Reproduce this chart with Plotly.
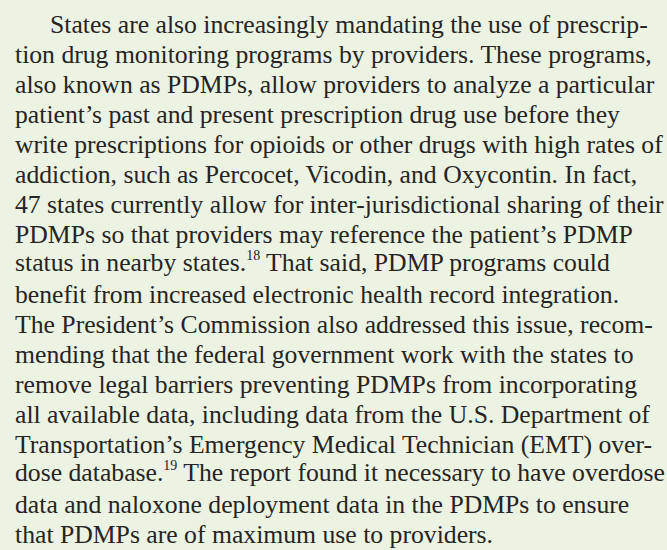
import plotly.graph_objects as go

lines = [
    "States are also increasingly mandating the use of prescrip-",
    "tion drug monitoring programs by providers. These programs,",
    "also known as PDMPs, allow providers to analyze a particular",
    "patient’s past and present prescription drug use before they",
    "write prescriptions for opioids or other drugs with high rates of",
    "addiction, such as Percocet, Vicodin, and Oxycontin. In fact,",
    "47 states currently allow for inter-jurisdictional sharing of their",
    "PDMPs so that providers may reference the patient’s PDMP",
    "status in nearby states.<sup><span style='font-size:14px'>18</span></sup> That said, PDMP programs could",
    "benefit from increased electronic health record integration.",
    "The President’s Commission also addressed this issue, recom-",
    "mending that the federal government work with the states to",
    "remove legal barriers preventing PDMPs from incorporating",
    "all available data, including data from the U.S. Department of",
    "Transportation’s Emergency Medical Technician (EMT) over-",
    "dose database.<sup><span style='font-size:14px'>19</span></sup> The report found it necessary to have overdose",
    "data and naloxone deployment data in the PDMPs to ensure",
    "that PDMPs are of maximum use to providers.",
]

W, H = 667, 550
BG = "#ecf3e2"
fig = go.Figure()
annotations = []
for i, t in enumerate(lines):
    x = 48 if i == 0 else 13
    y = 24 + 30 * i
    if "<sup>" in t:
        y -= 2
    annotations.append(dict(
        x=x, y=y, xref="x", yref="y", text=t, showarrow=False,
        xanchor="left", yanchor="middle", align="left",
        font=dict(family="Liberation Serif", size=25.7, color="#262424"),
    ))

fig.update_layout(
    width=W, height=H,
    margin=dict(l=0, r=0, t=0, b=0),
    paper_bgcolor=BG, plot_bgcolor=BG,
    xaxis=dict(range=[0, W], visible=False, fixedrange=True),
    yaxis=dict(range=[H, 0], visible=False, fixedrange=True),
    annotations=annotations,
    showlegend=False,
)

post = "document.body.style.margin = '0'; document.body.style.background = '%s';" % BG

fig.write_html("out.html", post_script=post, config={"displayModeBar": False, "staticPlot": True})
